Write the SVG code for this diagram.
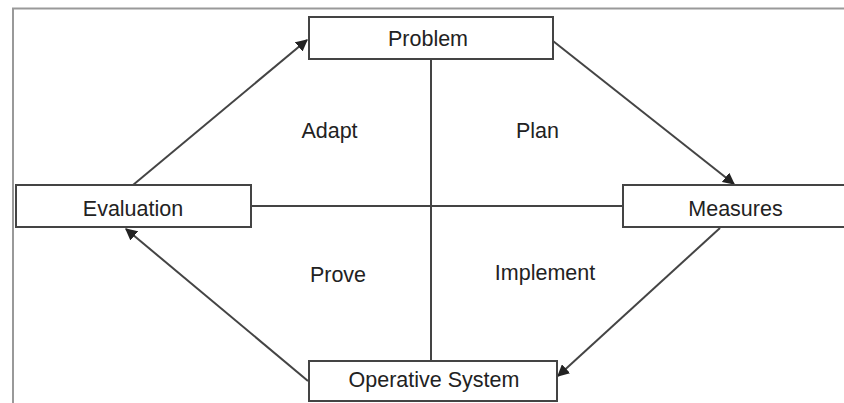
<svg xmlns="http://www.w3.org/2000/svg" width="844" height="403" viewBox="0 0 844 403">
<defs>
<style>
.box{fill:#fff;stroke:#444;stroke-width:2}
.t{font-family:"Liberation Sans",Arial,sans-serif;font-size:21.5px;fill:#222;text-anchor:middle}
.c{stroke:#444;stroke-width:2;fill:none}
.frame{stroke:#999;stroke-width:2;fill:none}
</style>
<marker id="ah" viewBox="0 0 10 10" refX="9" refY="5" markerWidth="6" markerHeight="6" orient="auto" markerUnits="strokeWidth">
<path d="M0,0 L10,5 L0,10 z" fill="#222"/>
</marker>
</defs>
<rect width="844" height="403" fill="#fff"/>
<path class="frame" d="M13,403 V8.5 H844"/>
<g id="connectors">
<line class="c" x1="431" y1="59" x2="431" y2="361"/>
<line class="c" x1="251" y1="206" x2="623" y2="206"/>
<line class="c" x1="133" y1="185" x2="307" y2="40" marker-end="url(#ah)"/>
<line class="c" x1="553" y1="41" x2="734" y2="184" marker-end="url(#ah)"/>
<line class="c" x1="720" y1="228" x2="558" y2="376" marker-end="url(#ah)"/>
<line class="c" x1="308" y1="381" x2="126" y2="229" marker-end="url(#ah)"/>
</g>
<g id="problem">
<rect class="box" x="309" y="17" width="244" height="42"/>
<text class="t" x="428" y="45.5">Problem</text>
</g>
<g id="evaluation">
<rect class="box" x="16" y="185" width="235" height="42"/>
<text class="t" x="133" y="215.5">Evaluation</text>
</g>
<g id="measures">
<rect class="box" x="623" y="185" width="230" height="42"/>
<text class="t" x="735.5" y="215.5">Measures</text>
</g>
<g id="operative">
<rect class="box" x="309" y="361" width="248" height="40"/>
<text class="t" x="434" y="387">Operative System</text>
</g>
<g id="labels">
<text class="t" x="329.5" y="138">Adapt</text>
<text class="t" x="537.5" y="138">Plan</text>
<text class="t" x="338" y="282">Prove</text>
<text class="t" x="545" y="279.5">Implement</text>
</g>
</svg>
